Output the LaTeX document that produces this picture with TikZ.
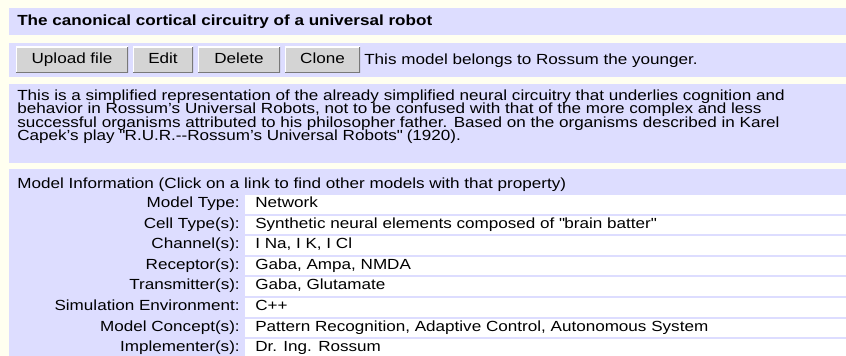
\documentclass[tikz,border=0pt]{standalone}
\usepackage{fontspec}
\setmainfont{Liberation Sans}[FakeStretch=1.165]
\usepackage{tikz}
\usetikzlibrary{positioning,calc}
\usepackage{xcolor}
\definecolor{pagebg}{RGB}{255,255,240}
\definecolor{band}{RGB}{221,221,255}
\definecolor{btnface}{RGB}{212,212,212}
\definecolor{btnedge}{RGB}{120,120,120}

\begin{document}
\begin{tikzpicture}[
    x=0.75pt, y=-0.75pt,
    txt/.style={inner sep=0pt, font=\fontsize{11}{10.05}\selectfont},
    panel/.style={fill=band, draw=none},
    cell/.style={fill=white, draw=none},
    button/.style={rectangle, fill=btnface, inner sep=0pt, minimum height=19.5pt,
        text height=7.9pt, text depth=2.1pt, font=\fontsize{11}{10.05}\selectfont,
        path picture={
            \draw[white, line width=1.5pt] (path picture bounding box.south west) -- (path picture bounding box.north west) -- (path picture bounding box.north east);
            \draw[btnedge, line width=1.2pt] (path picture bounding box.north east) -- (path picture bounding box.south east) -- (path picture bounding box.south west);
        }},
    fieldname/.style={txt, anchor=base east},
    fieldval/.style={txt, anchor=base west}
]

% Page and bands
\fill[pagebg] (0,0) rectangle (846,356);
\useasboundingbox (0,0) rectangle (846,356);
\fill[panel] (9,8) rectangle (846,35);
\fill[panel] (9,43) rectangle (846,77);
\fill[panel] (9,84) rectangle (846,163);
\fill[panel] (9,169) rectangle (846,356);

% Title
\node[txt, anchor=base west, font=\fontsize{11}{10.05}\selectfont\bfseries] (title) at (17,26) {The canonical cortical circuitry of a universal robot};

% Buttons
\node[button, minimum width=84pt] (upload) at (72,60) {Upload file};
\node[button, minimum width=45pt] (edit) at (163,60) {Edit};
\node[button, minimum width=61.5pt] (delete) at (239,60) {Delete};
\node[button, minimum width=56.25pt] (clone) at (322.5,60) {Clone};
\node[txt, anchor=base west] (owner) at (364,64.5) {This model belongs to Rossum the younger.};

% Description
\node[txt, anchor=base west] (desc1) at (17,100.5) {This is a simplified representation of the already simplified neural circuitry that underlies cognition and};
\node[txt, anchor=base west] (desc2) at (17,114) {behavior in Rossum's Universal Robots, not to be confused with that of the more complex and less};
\node[txt, anchor=base west] (desc3) at (17,127.4) {successful organisms attributed to his philosopher father. Based on the organisms described in Karel};
\node[txt, anchor=base west] (desc4) at (17,140.8) {Capek's play \textquotedbl R.U.R.-{}-Rossum's Universal Robots\textquotedbl{} (1920).};

% Model information
\node[txt, anchor=base west] (infohead) at (17,189) {Model Information (Click on a link to find other models with that property)};

% Value cells
\fill[cell] (245,195) rectangle (846,213.6);
\fill[cell] (245,215.6) rectangle (846,234.2);
\fill[cell] (245,236.2) rectangle (846,254.8);
\fill[cell] (245,256.8) rectangle (846,275.4);
\fill[cell] (245,277.4) rectangle (846,296);
\fill[cell] (245,298) rectangle (846,316.6);
\fill[cell] (245,318.6) rectangle (846,337.2);
\fill[cell] (245,339.2) rectangle (846,357.8);

% Fields
\node[fieldname] (typek) at (240,207.5) {Model Type:};
\node[fieldval] (typev) at (255,207.5) {Network};
\node[fieldname] (cellk) at (240,228.1) {Cell Type(s):};
\node[fieldval] (cellv) at (255,228.1) {Synthetic neural elements composed of \textquotedbl brain batter\textquotedbl};
\node[fieldname] (chank) at (240,248.7) {Channel(s):};
\node[fieldval] (chanv) at (255,248.7) {I Na, I K, I Cl};
\node[fieldname] (reck) at (240,269.3) {Receptor(s):};
\node[fieldval] (recv) at (255,269.3) {Gaba, Ampa, NMDA};
\node[fieldname] (transk) at (240,289.9) {Transmitter(s):};
\node[fieldval] (transv) at (255,289.9) {Gaba, Glutamate};
\node[fieldname] (simk) at (240,310.5) {Simulation Environment:};
\node[fieldval] (simv) at (255,310.5) {C++};
\node[fieldname] (conck) at (240,331.1) {Model Concept(s):};
\node[fieldval] (concv) at (255,331.1) {Pattern Recognition, Adaptive Control, Autonomous System};
\node[fieldname] (implk) at (240,351.7) {Implementer(s):};
\node[fieldval] (implv) at (255,351.7) {Dr. Ing. Rossum};

\end{tikzpicture}
\end{document}
